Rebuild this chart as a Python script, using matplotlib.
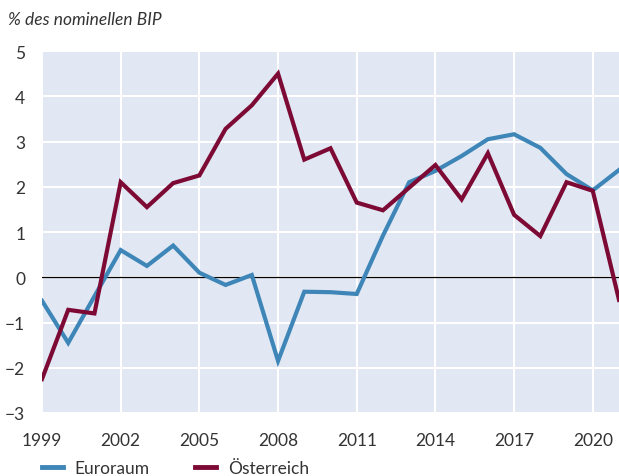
import matplotlib
matplotlib.use("Agg")
import matplotlib.pyplot as plt
from matplotlib.lines import Line2D

years = list(range(1999, 2022))
euroraum = [-0.52, -1.45, -0.42, 0.6, 0.25, 0.7, 0.1, -0.17, 0.05, -1.85, -0.32, -0.33,
            -0.37, 0.92, 2.1, 2.35, 2.68, 3.05, 3.16, 2.86, 2.28, 1.92, 2.37]
oesterreich = [-2.25, -0.72, -0.8, 2.1, 1.55, 2.08, 2.25, 3.28, 3.8, 4.5, 2.6, 2.85,
               1.65, 1.48, 1.98, 2.48, 1.72, 2.74, 1.38, 0.91, 2.1, 1.91, -0.5]
xticks = [1999, 2002, 2005, 2008, 2011, 2014, 2017, 2020]
yticks = [-3, -2, -1, 0, 1, 2, 3, 4, 5]

plt.rcParams['font.family'] = ['Lato', 'DejaVu Sans']

fig = plt.figure(figsize=(6.19, 4.77), dpi=100)
ax = fig.add_axes([42/619, 1 - 414/477, (619-42)/619, (414-52)/477])
ax.set_facecolor('#E1E8F3')
for s in ax.spines.values():
    s.set_visible(False)

blue = '#3F86B8'
maroon = '#7D0A35'
txt = '#333333'

ax.plot(years, euroraum, color=blue, lw=3.0, solid_joinstyle='miter', zorder=3)
ax.plot(years, oesterreich, color=maroon, lw=3.0, solid_joinstyle='miter', zorder=3)
ax.axhline(0, color='black', lw=0.9, zorder=2)

ax.set_xlim(1999, 2021)
ax.set_ylim(-3, 5)
ax.set_xticks(xticks)
ax.set_yticks(yticks)
ax.set_yticklabels([('\u2212' + str(-v)) if v < 0 else str(v) for v in yticks])
ax.grid(True, color='white', lw=1.5, zorder=1)
ax.set_axisbelow(True)
ax.tick_params(length=0, labelsize=12.5, colors=txt)
ax.tick_params(axis='x', pad=14)
ax.tick_params(axis='y', pad=12)

fig.text(8/619, 1 - 20/477, '% des nominellen BIP', fontsize=12.5, style='italic',
         color=txt, va='center', ha='left')

handles = [Line2D([], [], color=blue, lw=3.5), Line2D([], [], color=maroon, lw=3.5)]
leg = fig.legend(handles, ['Euroraum', 'Österreich'], loc='center left',
                 bbox_to_anchor=(40/619, 1 - 469/477), ncol=2, frameon=False,
                 fontsize=12.5, handlelength=1.2, columnspacing=2.6, handletextpad=0.7,
                 labelcolor=txt, borderaxespad=0, borderpad=0.1)

fig.savefig('out.png', dpi=100)
